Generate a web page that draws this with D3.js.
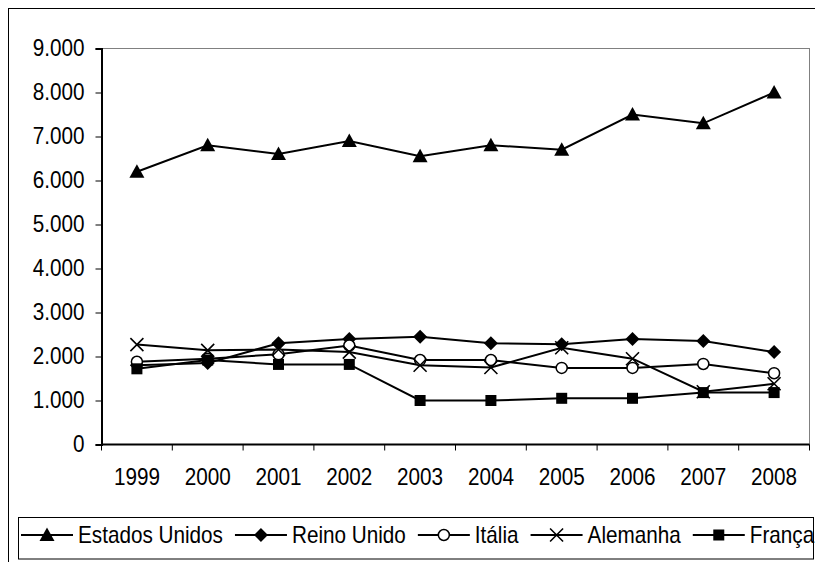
<!DOCTYPE html>
<html>
<head>
<meta charset="utf-8">
<script src="https://cdn.jsdelivr.net/npm/d3@7"></script>
<style>
  html, body { margin: 0; padding: 0; background: #fff; }
  svg { display: block; font-family: "Liberation Sans", Arial, sans-serif; }
</style>
</head>
<body>
<svg id="chart" width="815" height="562"></svg>
<script>
const years = ["1999","2000","2001","2002","2003","2004","2005","2006","2007","2008"];
const yTicks = [0,1000,2000,3000,4000,5000,6000,7000,8000,9000];
const seriesNames = ["Estados Unidos","Reino Unido","Itália","Alemanha","França"];
const estadosUnidos = [6200, 6800, 6600, 6900, 6550, 6800, 6700, 7500, 7300, 8000];
const reinoUnido   = [1800, 1850, 2300, 2400, 2450, 2300, 2280, 2400, 2350, 2100];
const italia       = [1880, 1950, 2050, 2250, 1920, 1920, 1740, 1740, 1830, 1620];
const alemanha     = [2270, 2140, 2160, 2100, 1800, 1750, 2200, 1950, 1200, 1380];
const franca       = [1720, 1920, 1820, 1820, 1000, 1000, 1050, 1050, 1180, 1180];
const markers = ["triangle","diamond","circle","cross","square"];

const series = [estadosUnidos, reinoUnido, italia, alemanha, franca].map((v,i)=>({name:seriesNames[i], values:v, marker:markers[i]}));

const FS = 23, SX = 0.9;
const svg = d3.select("#chart");
const L = 101.5, R = 809.5, T = 48.5, B = 444.5;

// outer chart border
svg.append("rect").attr("x",8.5).attr("y",8.5).attr("width",830).attr("height",600)
  .attr("fill","none").attr("stroke","#000").attr("stroke-width",1);

const x = d3.scaleBand().domain(years).range([L,R]);
const y = d3.scaleLinear().domain([0,9000]).range([B,T]);

// plot area border (gray)
svg.append("rect").attr("x",L).attr("y",T).attr("width",R-L).attr("height",B-T)
  .attr("fill","none").attr("stroke","#808080").attr("stroke-width",1);

// y axis
const yAxis = d3.axisLeft(y).tickValues(yTicks).tickSize(6).tickPadding(10)
  .tickFormat(d => d3.format(",")(d).replace(/,/g,"."));
const gy = svg.append("g").attr("transform",`translate(${L},0)`).call(yAxis);
gy.select(".domain").attr("stroke","#000").attr("stroke-width",2);
gy.selectAll(".tick line").attr("stroke","#000");
gy.selectAll(".tick text").attr("font-size",FS).attr("fill","#000")
  .attr("font-family","Liberation Sans, Arial, sans-serif")
  .attr("x", -17/SX).attr("transform",`scale(${SX},1)`);

// x axis with ticks at band boundaries
const gx = svg.append("g").attr("transform",`translate(0,${B})`);
gx.append("line").attr("x1",L).attr("x2",R).attr("stroke","#000").attr("stroke-width",2);
const boundaries = years.map(d => x(d)).concat([x(years[years.length-1]) + x.bandwidth()]);
gx.selectAll("line.tk").data(boundaries).join("line").attr("class","tk")
  .attr("x1",d=>d).attr("x2",d=>d).attr("y1",0).attr("y2",6).attr("stroke","#000");
gx.selectAll("text").data(years).join("text")
  .attr("transform",d=>`translate(${x(d)+x.bandwidth()/2},40) scale(${SX},1)`)
  .attr("text-anchor","middle").attr("font-size",FS).attr("fill","#000").text(d=>d);

// lines
const line = d3.line().x((d,i)=>x(years[i])+x.bandwidth()/2).y(d=>y(d));
svg.append("g").selectAll("path").data(series).join("path")
  .attr("d",d=>line(d.values)).attr("fill","none").attr("stroke","#000").attr("stroke-width",2);

function drawMarker(g, type, cx, cy) {
  if (type === "triangle") {
    g.append("path").attr("d",`M${cx},${cy-7.5}L${cx+7.5},${cy+6}L${cx-7.5},${cy+6}Z`).attr("fill","#000");
  } else if (type === "diamond") {
    g.append("path").attr("d",`M${cx},${cy-7}L${cx+7},${cy}L${cx},${cy+7}L${cx-7},${cy}Z`).attr("fill","#000");
  } else if (type === "circle") {
    g.append("circle").attr("cx",cx).attr("cy",cy).attr("r",5.5).attr("fill","#fff").attr("stroke","#000").attr("stroke-width",1.5);
  } else if (type === "cross") {
    g.append("path").attr("d",`M${cx-6.5},${cy-6.5}L${cx+6.5},${cy+6.5}M${cx+6.5},${cy-6.5}L${cx-6.5},${cy+6.5}`).attr("stroke","#000").attr("stroke-width",1.6);
  } else if (type === "square") {
    g.append("rect").attr("x",cx-5.5).attr("y",cy-5.5).attr("width",11).attr("height",11).attr("fill","#000");
  }
}

const mg = svg.append("g");
series.forEach(s => {
  s.values.forEach((v,i) => drawMarker(mg, s.marker, x(years[i])+x.bandwidth()/2, y(v)));
});

// legend
const lg = svg.append("g");
lg.append("rect").attr("x",18.5).attr("y",517.5).attr("width",795).attr("height",41.5)
  .attr("fill","#fff").attr("stroke","#000").attr("stroke-width",1);
const ly = 535;
let lx = 21;
series.forEach((s,i) => {
  const lineLen = 52;
  lg.append("line").attr("x1",lx).attr("x2",lx+lineLen).attr("y1",ly).attr("y2",ly).attr("stroke","#000").attr("stroke-width",2);
  const mgl = lg.append("g");
  drawMarker(mgl, s.marker, lx+lineLen/2, ly);
  const tx = lx+lineLen+5;
  const t = lg.append("text").attr("transform",`translate(${tx},${ly+8}) scale(${SX},1)`)
    .attr("font-size",FS).attr("fill","#000").text(s.name);
  lx = tx + t.node().getComputedTextLength()*SX + 12;
});
</script>
</body>
</html>
